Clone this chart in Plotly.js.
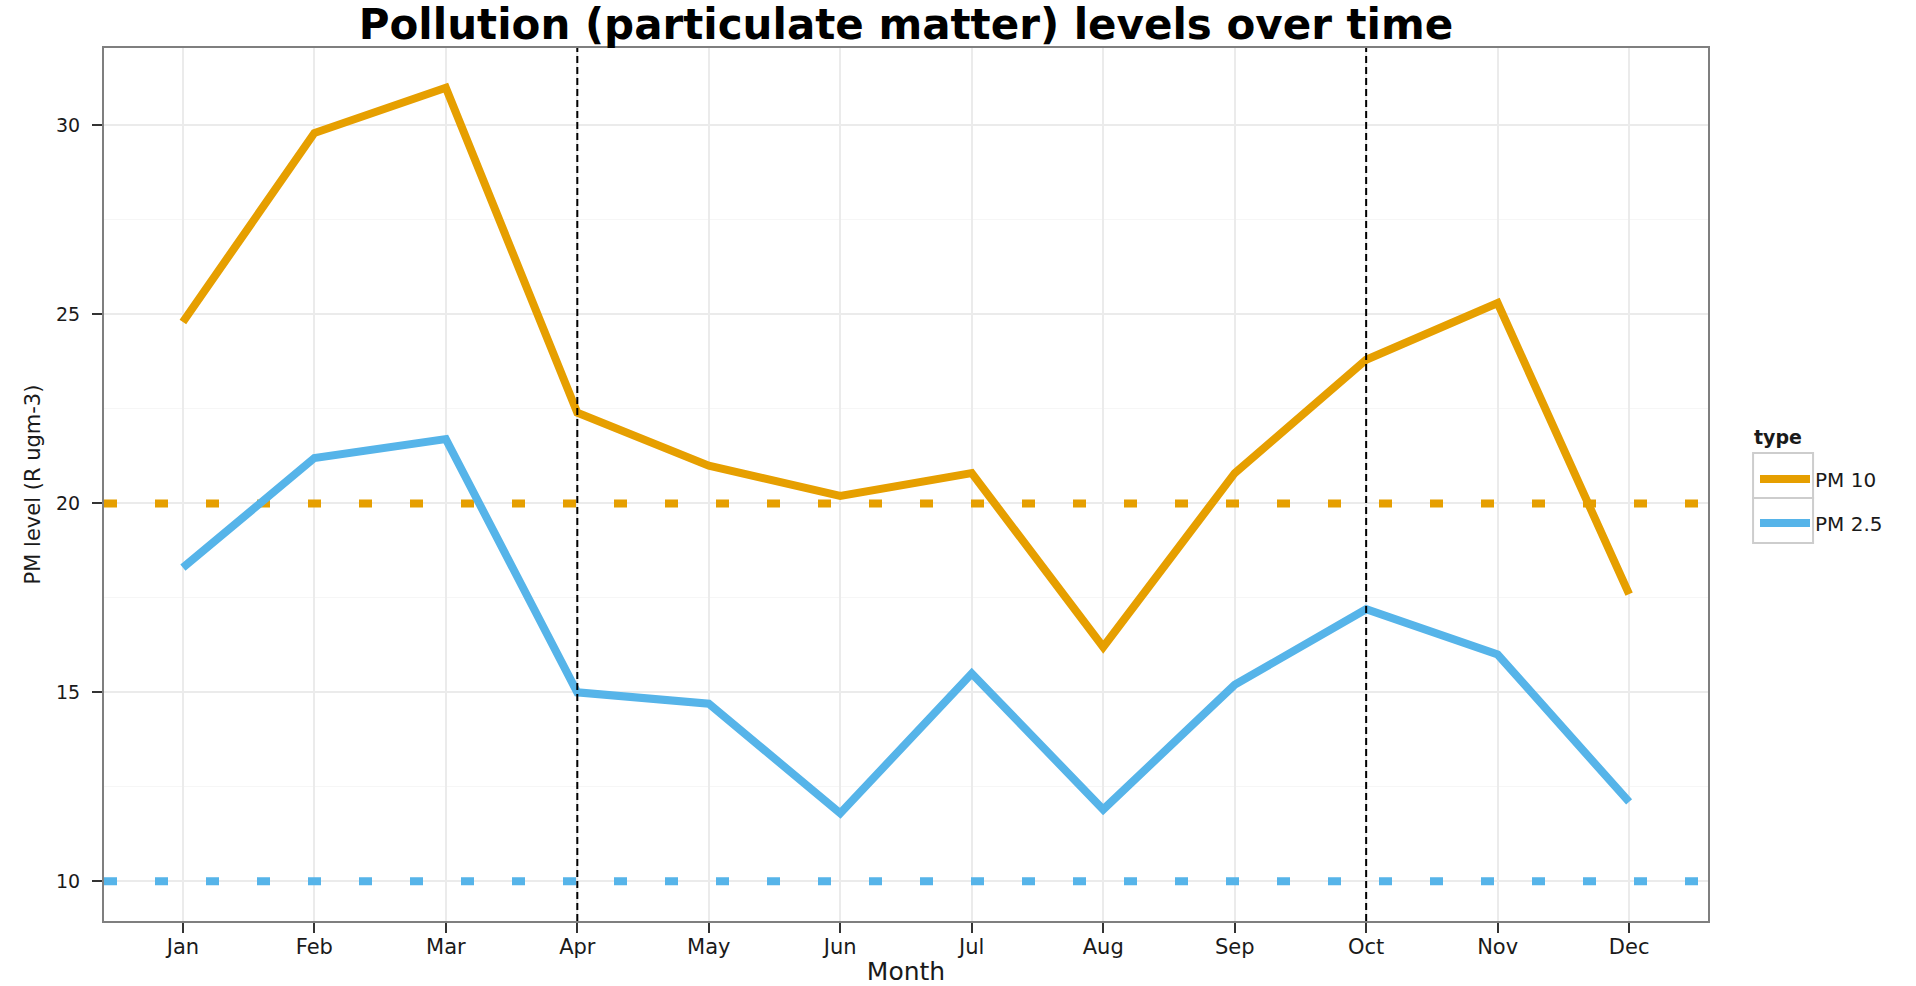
<!DOCTYPE html>
<html>
<head>
<meta charset="utf-8">
<script src="https://cdn.plot.ly/plotly-3.0.1.min.js"></script>
<style>
  html, body { margin: 0; padding: 0; background: #ffffff; }
  #chart { width: 1916px; height: 986px; }
</style>
</head>
<body>
<div id="chart"></div>
<script>
// ---- data ----
const months = ['Jan', 'Feb', 'Mar', 'Apr', 'May', 'Jun', 'Jul', 'Aug', 'Sep', 'Oct', 'Nov', 'Dec'];
const pm10 = [24.8, 29.8, 31.0, 22.4, 21.0, 20.2, 20.8, 16.2, 20.8, 23.8, 25.3, 17.6];
const pm25 = [18.3, 21.2, 21.7, 15.0, 14.7, 11.8, 15.5, 11.9, 15.2, 17.2, 16.0, 12.1];
const seriesNames = ['PM 10', 'PM 2.5'];
const seriesColors = ['#E69F00', '#56B4E9'];
const limitLevels = [20, 10];          // guideline levels for PM 10 and PM 2.5
const markedMonths = ['Apr', 'Oct'];   // dashed vertical markers
const yTickVals = [10, 15, 20, 25, 30];
const legendTitle = 'type';

const FONT = 'DejaVu Sans, Liberation Sans, Arial, sans-serif';
const TXT = '#1a1a1a';

const traces = [];
// dotted guideline levels across the whole panel (hidden numeric x axis 0..1)
limitLevels.forEach((lv, i) => {
  traces.push({
    x: [0, 1], y: [lv, lv], xaxis: 'x', yaxis: 'y', type: 'scatter', mode: 'lines',
    line: { color: seriesColors[i], width: 8, dash: '13px,38px' },
    showlegend: false, hoverinfo: 'skip'
  });
});
// the two series on the visible month axis
[pm10, pm25].forEach((vals, i) => {
  traces.push({
    x: months, y: vals, name: seriesNames[i], xaxis: 'x2', yaxis: 'y',
    type: 'scatter', mode: 'lines',
    line: { color: seriesColors[i], width: 8 },
    legend: i === 0 ? 'legend' : 'legend2', hoverinfo: 'x+y'
  });
});

const shapes = [];
// vertical dashed month markers (above traces)
markedMonths.forEach(m => {
  const idx = months.indexOf(m);
  shapes.push({
    type: 'line', layer: 'above', xref: 'x2', x0: idx, x1: idx, yref: 'paper', y0: 0, y1: 1,
    line: { color: '#000000', width: 2, dash: '7px,4px' }
  });
});
// legend key boxes (ggplot style)
const keyBoxes = [[1.0281, 1.0655, 0.4845, 0.5361], [1.0281, 1.0655, 0.4330, 0.4845]];
keyBoxes.forEach(b => {
  shapes.push({
    type: 'rect', layer: 'below', xref: 'paper', yref: 'paper',
    x0: b[0], x1: b[1], y0: b[2], y1: b[3],
    line: { color: '#CDCDCD', width: 2 }, fillcolor: 'rgba(255,255,255,0)'
  });
});

const axisCommon = {
  showgrid: true, gridcolor: '#EBEBEB', gridwidth: 2,
  showline: true, mirror: true, linecolor: '#7F7F7F', linewidth: 2,
  ticks: 'outside', ticklen: 10, tickwidth: 2, tickcolor: '#333333',
  zeroline: false
};

const legendCommon = {
  x: 1.0293, xanchor: 'left', yanchor: 'middle',
  font: { family: FONT, size: 20, color: TXT },
  bgcolor: 'rgba(0,0,0,0)', borderwidth: 0, itemwidth: 50
};

const layout = {
  width: 1916, height: 986,
  margin: { l: 104, r: 208, t: 48, b: 65, pad: 0 },
  paper_bgcolor: '#ffffff', plot_bgcolor: '#ffffff',
  title: {
    text: '<b>Pollution (particulate matter) levels over time</b>',
    font: { family: FONT, size: 42, color: '#000000' },
    xref: 'paper', x: 0.5, xanchor: 'center',
    yref: 'container', y: 0.9757, yanchor: 'middle'
  },
  xaxis: { visible: false, range: [0, 1], showgrid: false, zeroline: false, fixedrange: true },
  xaxis2: Object.assign({}, axisCommon, {
    overlaying: 'x', anchor: 'y', side: 'bottom',
    type: 'category', range: [-0.6, 11.6],
    ticklabelstandoff: -4,
    tickfont: { family: FONT, size: 21, color: TXT },
    title: { text: 'Month', font: { family: FONT, size: 25, color: TXT }, standoff: 5 }
  }),
  yaxis: Object.assign({}, axisCommon, {
    range: [8.95, 32.05], tickmode: 'array', tickvals: yTickVals,
    ticklabelstandoff: 8,
    tickfont: { family: FONT, size: 19, color: TXT },
    minor: { tick0: 0, dtick: 2.5, showgrid: true, gridcolor: '#F6F6F6', gridwidth: 1, ticks: '' },
    title: { text: 'PM level (R ugm-3)', font: { family: FONT, size: 21, color: TXT }, standoff: 10 }
  }),
  showlegend: true,
  legend: Object.assign({}, legendCommon, { y: 0.5063 }),
  legend2: Object.assign({}, legendCommon, { y: 0.4559 }),
  annotations: [{
    text: '<b>' + legendTitle + '</b>', xref: 'paper', yref: 'paper',
    x: 1.0274, xanchor: 'left', y: 0.5544, yanchor: 'middle', showarrow: false,
    font: { family: FONT, size: 19, color: TXT }
  }],
  shapes: shapes
};

Plotly.newPlot('chart', traces, layout, { displayModeBar: false, responsive: false });
</script>
</body>
</html>
